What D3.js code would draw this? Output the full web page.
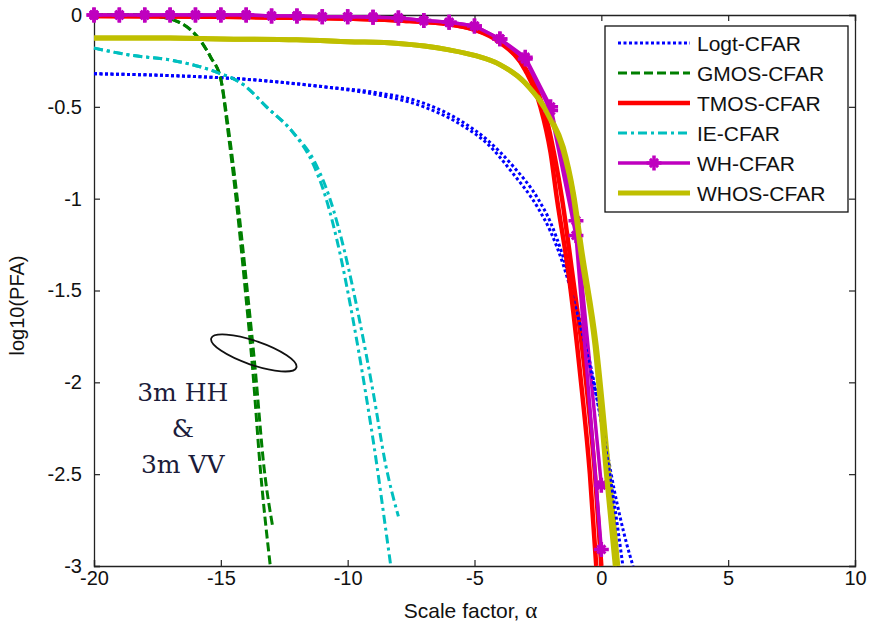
<!DOCTYPE html>
<html>
<head>
<meta charset="utf-8">
<script src="https://cdn.jsdelivr.net/npm/d3@7"></script>
<style>
  body { margin: 0; background: #fff; }
  text { font-family: "Liberation Sans", Arial, sans-serif; }
</style>
</head>
<body>
<div class="center"></div>
<script>
// axis ticks
var xTicks = [-20, -15, -10, -5, 0, 5, 10];
var yTicks = [0, -0.5, -1, -1.5, -2, -2.5, -3];

// curves, [scale factor, log10(PFA)], one for 3m HH and one for 3m VV
var logtHH = [[-20,-0.32],[-17,-0.33],[-14,-0.35],[-11,-0.39],[-9,-0.42],[-7,-0.48],[-5.5,-0.58],[-4.5,-0.68],[-3.5,-0.82],[-2.5,-1.0],[-2,-1.13],[-1.5,-1.32],[-1,-1.57],[-0.5,-1.86],[0,-2.2],[0.5,-2.58],[1,-2.88],[1.25,-3]];
var logtVV = [[-20,-0.32],[-17,-0.33],[-14,-0.35],[-11,-0.39],[-9,-0.43],[-7,-0.5],[-5.5,-0.6],[-4.5,-0.7],[-3.5,-0.86],[-2.5,-1.05],[-2,-1.18],[-1.5,-1.36],[-1,-1.6],[-0.5,-1.88],[0,-2.22],[0.5,-2.65],[0.85,-3]];

var gmosHH = [[-20,0],[-18,0],[-17.4,-0.01],[-16.8,-0.03],[-16.2,-0.08],[-15.8,-0.14],[-15.4,-0.23],[-15.0,-0.35],[-14.75,-0.6],[-14.4,-1.0],[-14.0,-1.55],[-13.75,-1.92],[-13.45,-2.46],[-13.05,-3]];
var gmosVV = [[-20,0],[-18,0],[-17.4,-0.01],[-16.8,-0.03],[-16.2,-0.08],[-15.8,-0.14],[-15.4,-0.23],[-15.0,-0.35],[-14.72,-0.6],[-14.35,-1.0],[-13.92,-1.55],[-13.65,-1.92],[-13.3,-2.46],[-12.95,-2.79]];

var tmosHH = [[-20,-0.005],[-15,-0.01],[-10,-0.02],[-8,-0.03],[-6,-0.05],[-5,-0.08],[-4,-0.14],[-3,-0.29],[-2.5,-0.42],[-2.1,-0.6],[-1.8,-0.8],[-1.55,-1.0],[-1.15,-1.4],[-0.6,-2.0],[-0.25,-2.5],[0,-3]];
var tmosVV = [[-20,-0.005],[-15,-0.01],[-10,-0.02],[-8,-0.03],[-6,-0.05],[-5,-0.08],[-4,-0.15],[-3,-0.3],[-2.4,-0.5],[-2.0,-0.75],[-1.75,-1.0],[-1.3,-1.4],[-0.8,-2.0],[-0.45,-2.5],[-0.2,-3]];

var ieHH = [[-20,-0.18],[-18.5,-0.22],[-17,-0.245],[-15.2,-0.31],[-14.1,-0.38],[-13.2,-0.5],[-12.15,-0.64],[-11.4,-0.8],[-10.85,-1.0],[-10.3,-1.3],[-9.8,-1.65],[-9.3,-2.05],[-8.85,-2.45],[-8.5,-2.8],[-8.3,-3]];
var ieVV = [[-20,-0.18],[-18.5,-0.22],[-17,-0.245],[-15.2,-0.31],[-14.1,-0.38],[-13.2,-0.5],[-12.15,-0.64],[-11.3,-0.8],[-10.7,-1.0],[-10.1,-1.3],[-9.55,-1.65],[-9.0,-2.05],[-8.5,-2.45],[-8.0,-2.73]];

var whHH = [[-20,0],[-19,0],[-18,0],[-17,0],[-16,0],[-15,0],[-14,0],[-13,-0.005],[-12,-0.005],[-11,-0.01],[-10,-0.01],[-9,-0.012],[-8,-0.016],[-7,-0.03],[-6,-0.04],[-5,-0.06],[-4,-0.13],[-3,-0.23],[-2,-0.5],[-1,-1.12],[0,-2.56]];
var whVV = [[-20,0],[-19,0],[-18,0],[-17,0],[-16,0],[-15,0],[-14,0],[-13,-0.005],[-12,-0.005],[-11,-0.01],[-10,-0.01],[-9,-0.012],[-8,-0.016],[-7,-0.03],[-6,-0.04],[-5,-0.06],[-4,-0.13],[-3,-0.24],[-2,-0.52],[-1,-1.2],[0,-2.91]];

var whosHH = [[-20,-0.125],[-17,-0.125],[-15,-0.13],[-12,-0.135],[-10,-0.145],[-8,-0.155],[-6,-0.19],[-5,-0.22],[-4,-0.27],[-3,-0.37],[-2,-0.56],[-1.5,-0.72],[-1.1,-0.97],[-0.75,-1.3],[-0.2,-1.8],[0.3,-2.5],[0.65,-3]];
var whosVV = [[-20,-0.125],[-17,-0.125],[-15,-0.13],[-12,-0.135],[-10,-0.145],[-8,-0.155],[-6,-0.19],[-5,-0.22],[-4,-0.27],[-3,-0.37],[-2,-0.57],[-1.5,-0.74],[-1.1,-0.99],[-0.8,-1.3],[-0.25,-1.8],[0.2,-2.5],[0.55,-3]];

var legendNames = ["Logt-CFAR", "GMOS-CFAR", "TMOS-CFAR", "IE-CFAR", "WH-CFAR", "WHOS-CFAR"];

var styles = [
  {color: "#0000ff", width: 3,   dash: "3,2.5"},
  {color: "#007f00", width: 3,   dash: "9,4"},
  {color: "#ff0000", width: 4.5, dash: null},
  {color: "#00bfbf", width: 3,   dash: "9,4,3,4"},
  {color: "#bf00bf", width: 3.5, dash: null, marker: true},
  {color: "#bfbf00", width: 5,   dash: null}
];

// HH set drawn first, VV set on top
var curves = [
  {data: logtHH, s: 0}, {data: gmosHH, s: 1}, {data: tmosHH, s: 2},
  {data: ieHH, s: 3}, {data: whHH, s: 4}, {data: whosHH, s: 5},
  {data: logtVV, s: 0}, {data: gmosVV, s: 1}, {data: tmosVV, s: 2},
  {data: ieVV, s: 3}, {data: whVV, s: 4}, {data: whosVV, s: 5}
];

var margin = {top: 15, right: 18, bottom: 64, left: 94},
    width = 873 - margin.left - margin.right,
    height = 630 - margin.top - margin.bottom;

var x = d3.scaleLinear().domain([-20, 10]).range([0, width]);
var y = d3.scaleLinear().domain([-3, 0]).range([height, 0]);

var svg = d3.select(".center").append("svg")
    .attr("width", 873)
    .attr("height", 630)
  .append("g")
    .attr("transform", "translate(" + margin.left + "," + margin.top + ")");

var fmt = function(d) { return String(d); };

// axes, matlab style ticks pointing inward
svg.append("g")
    .attr("transform", "translate(0," + height + ")")
    .call(d3.axisBottom(x).tickValues(xTicks).tickFormat(fmt).tickSize(-6).tickPadding(5));
svg.append("g")
    .call(d3.axisLeft(y).tickValues(yTicks).tickFormat(fmt).tickSize(-6).tickPadding(12));
svg.append("g")
    .call(d3.axisTop(x).tickValues(xTicks).tickFormat("").tickSize(-6));
svg.append("g")
    .attr("transform", "translate(" + width + ",0)")
    .call(d3.axisRight(y).tickValues(yTicks).tickFormat("").tickSize(-6));

svg.selectAll(".domain").attr("stroke", "#222").attr("stroke-width", 1.3);
svg.selectAll(".tick line").attr("stroke", "#222").attr("stroke-width", 1.2);
svg.selectAll(".tick text")
    .attr("font-size", 20)
    .attr("font-family", "Liberation Sans, Arial, sans-serif")
    .attr("fill", "#111");

var smooth = d3.line()
    .curve(d3.curveMonotoneX)
    .x(function(d) { return x(d[0]); })
    .y(function(d) { return y(d[1]); });
var straight = d3.line()
    .x(function(d) { return x(d[0]); })
    .y(function(d) { return y(d[1]); });

var markerPlus = d3.symbol().type(d3.symbolPlus).size(75);
var markerTimes = d3.symbol().type(d3.symbolTimes).size(45);

curves.forEach(function(c) {
  var st = styles[c.s];
  svg.append("path")
      .datum(c.data)
      .attr("fill", "none")
      .attr("stroke", st.color)
      .attr("stroke-width", st.width)
      .attr("stroke-dasharray", st.dash)
      .attr("d", st.marker ? straight : smooth);
  if (st.marker) {
    var g = svg.selectAll(null)
        .data(c.data)
      .enter().append("g")
        .attr("transform", function(d) { return "translate(" + x(d[0]) + "," + y(d[1]) + ")"; });
    g.append("path").attr("d", markerPlus).attr("fill", "none")
        .attr("stroke", st.color).attr("stroke-width", 3.5);
    g.append("path").attr("d", markerTimes).attr("fill", "none")
        .attr("stroke", st.color).attr("stroke-width", 3);
  }
});

// annotation ellipse and text
svg.append("ellipse")
    .attr("transform", "translate(" + (x(-13.7)) + "," + (y(-1.84)) + ") rotate(19)")
    .attr("rx", 45)
    .attr("ry", 12)
    .attr("fill", "none")
    .attr("stroke", "#111")
    .attr("stroke-width", 1.8);

var noteLines = ["3m HH", "&", "3m VV"];
svg.selectAll(".note")
    .data(noteLines)
  .enter().append("text")
    .attr("class", "note")
    .attr("x", x(-16.5))
    .attr("y", function(d, i) { return y(-2.1) + i * 36; })
    .attr("text-anchor", "middle")
    .style("font-family", "DejaVu Serif, serif")
    .attr("font-size", 25)
    .attr("fill", "#1c1c3a")
    .text(function(d) { return d; });

// legend
var legend = svg.append("g").attr("transform", "translate(" + (605 - margin.left) + "," + (26 - margin.top) + ")");
legend.append("rect")
    .attr("width", 243)
    .attr("height", 186)
    .attr("fill", "#fff")
    .attr("stroke", "#111")
    .attr("stroke-width", 1.3);

legendNames.forEach(function(name, i) {
  var st = styles[i];
  var ly = 17 + i * 30;
  legend.append("line")
      .attr("x1", 13).attr("x2", 85)
      .attr("y1", ly).attr("y2", ly)
      .attr("stroke", st.color)
      .attr("stroke-width", st.width)
      .attr("stroke-dasharray", st.dash);
  if (st.marker) {
    var m = legend.append("g").attr("transform", "translate(49," + ly + ")");
    m.append("path").attr("d", markerPlus).attr("fill", "none").attr("stroke", st.color).attr("stroke-width", 3.5);
    m.append("path").attr("d", markerTimes).attr("fill", "none").attr("stroke", st.color).attr("stroke-width", 3);
  }
  legend.append("text")
      .attr("x", 92)
      .attr("y", ly + 8)
      .attr("font-size", 21)
      .attr("fill", "#111")
      .text(name);
});

// axis titles
svg.append("text")
    .attr("transform", "translate(" + (24 - margin.left) + "," + (height / 2 + 15) + ") rotate(-90)")
    .attr("text-anchor", "middle")
    .attr("font-size", 20)
    .attr("fill", "#111")
    .text("log10(PFA)");

var xt = svg.append("text")
    .attr("x", width / 2 - 4)
    .attr("y", height + 52)
    .attr("text-anchor", "middle")
    .attr("font-size", 21)
    .attr("fill", "#111");
xt.append("tspan").text("Scale factor, ");
xt.append("tspan").style("font-family", "Liberation Serif, serif").attr("font-size", 23).text("α");
</script>
</body>
</html>
